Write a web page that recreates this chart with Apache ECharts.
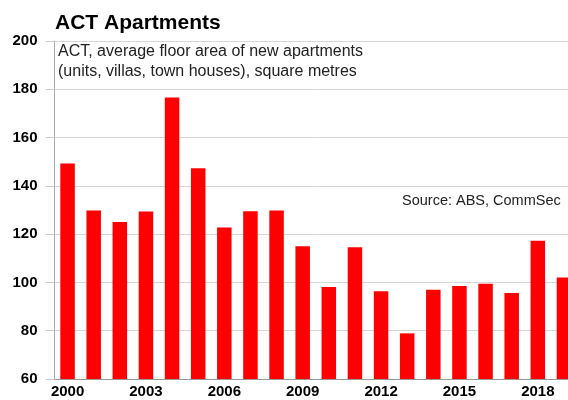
<!DOCTYPE html>
<html><head><meta charset="utf-8">
<script src="https://cdn.jsdelivr.net/npm/echarts@6/dist/echarts.min.js"></script>
<style>html,body{margin:0;padding:0;background:#fff;overflow:hidden;width:568px;height:400px}#c{width:577px;height:400px}</style>
</head><body><div id="c"></div>
<script>
const years = ['2000','2001','2002','2003','2004','2005','2006','2007','2008','2009','2010','2011','2012','2013','2014','2015','2016','2017','2018','2019'];
const floorArea = [149.3,129.8,125,129.4,176.6,147.3,122.7,129.5,129.8,115,98.1,114.6,96.3,78.9,97,98.5,99.5,95.6,117.3,102];
const yTicks = [60,200,20];

const chart = echarts.init(document.getElementById('c'), null, {renderer:'canvas'});
chart.setOption({
  animation:false,
  title:{text:'ACT Apartments', left:50, top:8,
    textStyle:{fontFamily:'Liberation Sans', fontWeight:'bold', fontSize:21, color:'#000'}},
  grid:{left:54.5, top:41, bottom:21, right:0},
  graphic:[
    {type:'text', left:58, top:42, style:{text:'ACT, average floor area of new apartments\n(units, villas, town houses), square metres',
      font:'16px "Liberation Sans"', fill:'#222', lineHeight:20}},
    {type:'text', left:402, top:193, style:{text:'Source: ABS, CommSec', font:'14.5px "Liberation Sans"', fill:'#222'}}
  ],
  xAxis:{type:'category', data:years, boundaryGap:true,
    axisLine:{lineStyle:{color:'#999'}}, axisTick:{show:false},
    axisLabel:{interval:2, margin:5, fontFamily:'Liberation Sans', fontWeight:'bold', fontSize:15, color:'#000'}},
  yAxis:{type:'value', min:yTicks[0], max:yTicks[1], interval:yTicks[2],
    axisLine:{show:true, lineStyle:{color:'#aaa'}},
    axisTick:{show:true, length:9, lineStyle:{color:'#ccc'}},
    splitLine:{lineStyle:{color:'#d6d6d6', width:1}},
    axisLabel:{margin:17, fontFamily:'Liberation Sans', fontWeight:'bold', fontSize:15, color:'#000'}},
  series:[{type:'bar', data:floorArea, barWidth:14.5, itemStyle:{color:'#ff0000'}}]
});
</script></body></html>
